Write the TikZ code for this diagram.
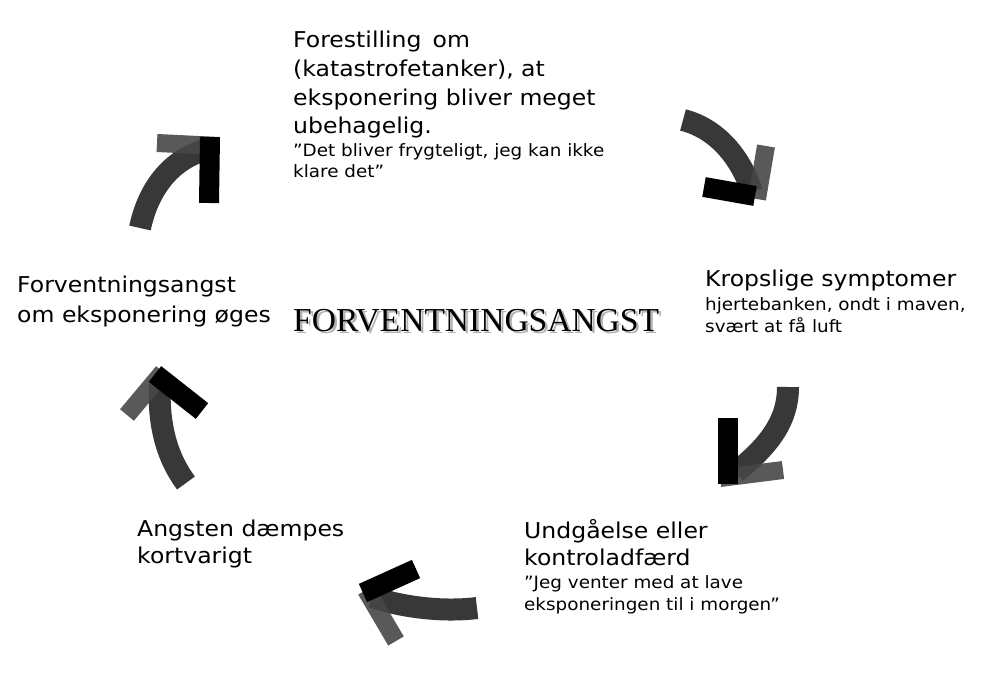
\documentclass[tikz,border=0pt]{standalone}
\usepackage{fontspec}
\setmainfont{DejaVu Sans}[FakeStretch=1.08]
\newfontfamily\titlefont{Liberation Serif}
\begin{document}
\begin{tikzpicture}[x=1pt,y=-1pt,
  big/.style={font=\fontsize{21.8}{25}\selectfont, anchor=base west, inner sep=0pt},
  small/.style={font=\fontsize{17}{20}\selectfont, anchor=base west, inner sep=0pt},
  ttl/.style={font=\titlefont\fontsize{33.5}{36}\selectfont, anchor=base west, inner sep=0pt},
  shaft/.style={line width=22pt, draw=black!78, line cap=butt},
  armdark/.style={line width=20pt, draw=black, line cap=butt},
  armgray/.style={line width=18pt, draw=black!72, line cap=butt, opacity=0.9}]
\useasboundingbox (0,0) rectangle (985,676);
\fill[white] (0,0) rectangle (985,676);

% texts
\node[big] (t1) at (293,48) {Forestilling\, om};
\node[big] (t2) at (293,77) {(katastrofetanker), at};
\node[big] (t3) at (293,106) {eksponering bliver meget};
\node[big] (t4) at (293,134) {ubehagelig.};
\node[small] (t5) at (293,157) {”Det bliver frygteligt, jeg kan ikke};
\node[small] (t6) at (293,178) {klare det”};

\node[big] (k1) at (705,287) {Kropslige symptomer};
\node[small] (k2) at (705,310) {hjertebanken, ondt i maven,};
\node[small] (k3) at (705,332) {svært at få luft};

\node[big] (f1) at (17,293) {Forventningsangst};
\node[big] (f2) at (17,322) {om eksponering øges};

\node[big] (a1) at (137,536) {Angsten dæmpes};
\node[big] (a2) at (137,563) {kortvarigt};

\node[big] (u1) at (524,538) {Undgåelse eller};
\node[big] (u2) at (524,565) {kontroladfærd};
\node[small] (u3) at (524,588) {”Jeg venter med at lave};
\node[small] (u4) at (524,610) {eksponeringen til i morgen”};

% title with shadow (one node)
\node[ttl] (title) at (293,331)
  {\rlap{\hspace{2.5pt}\raisebox{-2.5pt}{\color{black!30}FORVENTNINGSANGST}}FORVENTNINGSANGST};

% arrow 1 (top left)
\draw[shaft] (140,228) .. controls (148,190) and (170,160) .. (205,150);
\draw[armgray] (157,143) -- (219,146);
\draw[armdark] (210,137) -- (209,203);

% arrow 2 (top right)
\draw[shaft] (683,120) .. controls (715,128) and (740,155) .. (752,192);
\draw[armgray] (766,146) -- (757,199);
\draw[armdark] (704,187) -- (755,196);

% arrow 3 (right)
\draw[shaft] (788,387) .. controls (788,420) and (770,445) .. (736,472);
\draw[armgray] (720,478) -- (783,470);
\draw[armdark] (728,418) -- (728,484);

% arrow 4 (bottom)
\draw[shaft] (477,608) .. controls (445,612) and (405,608) .. (372,597);
\draw[armgray] (366,590) -- (396,641);
\draw[armdark] (363,593) -- (416,569);

% arrow 5 (left)
\draw[shaft] (186,483) .. controls (165,455) and (158,420) .. (160,384);
\draw[armgray] (163,372) -- (127,415);
\draw[armdark] (155,374) -- (202,411);
\end{tikzpicture}
\end{document}
